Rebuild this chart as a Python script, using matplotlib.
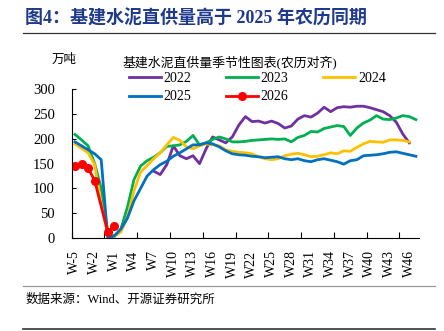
import numpy as np
import matplotlib.pyplot as plt
from matplotlib.lines import Line2D

plt.rcParams['font.family'] = ['Liberation Serif', 'Noto Sans CJK SC']

# 农历对齐周 W-5 ... W47
weeks = ['W%d' % w for w in range(-5, 48)]

nan = np.nan
s2022 = [nan] * 12 + [135, 128, 148, 186, 166, 160, 166, 150, 180, 204,
                      198, 192, 204, 228, 245, 235, 236, 232, 236, 231,
                      222, 226, 240, 247, 244, 252, 264, 255, 263, 265,
                      264, 266, 266, 263, 259, 255, 247, 234, 210, 192, nan]
s2023 = [209, 198, 186, 150, 100, 12, 4, 18, 62, 118,
         145, 156, 163, 172, 185, 186, 188, 195, 207, 188,
         192, 199, 204, 200, 194, 194, 195, 197, 198, 199,
         200, 199, 200, 194, 203, 207, 215, 214, 221, 224,
         227, 225, 207, 222, 232, 238, 247, 240, 239, 242,
         247, 245, 239]
s2024 = [190, 181, 172, 148, 68, 8, 3, 12, 42, 95,
         133, 146, 160, 172, 188, 203, 197, 184, 180, 186,
         190, 188, 186, 178, 175, 173, 172, 170, 164, 160,
         158, 160, 166, 169, 171, 168, 164, 165, 168, 172,
         170, 176, 175, 183, 190, 195, 194, 193, 198, 198,
         197, 194, nan]
s2025 = [194, 186, 178, 170, 158, 0, 4, 18, 40, 75,
         100, 125, 138, 148, 155, 165, 172, 180, 188, 188,
         192, 190, 184, 176, 170, 168, 167, 165, 164, 162,
         163, 164, 160, 158, 160, 156, 154, 158, 160, 157,
         154, 149, 156, 158, 166, 167, 168, 170, 173, 174,
         171, 168, 165]
s2026_idx = [0, 1, 2, 3, 5, 6]
s2026 = [145, 150, 141, 116, 12, 25]

fig = plt.figure(figsize=(4.44, 3.31), dpi=100)
ax = fig.add_axes([0.1615, 0.281, 0.7825, 0.449])

x = np.arange(len(weeks))
lw = 2.0
l22, = ax.plot(x, s2022, color='#7030A0', lw=lw, label='2022')
l23, = ax.plot(x, s2023, color='#00B050', lw=lw, label='2023')
l24, = ax.plot(x, s2024, color='#FFC000', lw=lw, label='2024')
l25, = ax.plot(x, s2025, color='#0070C0', lw=lw, label='2025')
l26, = ax.plot(s2026_idx, s2026, color='#FF0000', lw=lw, marker='o',
               markersize=5.5, label='2026')

ax.set_xlim(-0.5, len(weeks) - 0.5)
ax.set_ylim(0, 300)
ax.set_yticks(range(0, 301, 50))
ax.set_xticks(x[::3])
ax.set_xticklabels(weeks[::3], rotation=90)
ax.set_xticks(np.arange(-0.5, len(weeks), 5), minor=True)
ax.tick_params(axis='x', which='major', length=0, pad=9, labelsize=10)
ax.tick_params(axis='x', which='minor', direction='in', length=4, width=0.8)
ax.tick_params(axis='y', direction='in', length=3, width=0.8, labelsize=10.5, pad=12)
for sp in ['top', 'right']:
    ax.spines[sp].set_visible(False)
for sp in ['left', 'bottom']:
    ax.spines[sp].set_linewidth(0.8)

fig.legend([l22, l25, l23, l26, l24], ['2022', '2025', '2023', '2026', '2024'],
           ncol=3, loc='upper left', bbox_to_anchor=(0.29, 0.783), frameon=False,
           fontsize=10, handlelength=2.3, handletextpad=0.2, columnspacing=2.5,
           labelspacing=0.4, borderpad=0, borderaxespad=0)

fig.text(0.057, 0.943, '图4：基建水泥直供量高于 2025 年农历同期', fontsize=13,
         fontweight='bold', color='#1F3A8A', va='center')
fig.add_artist(Line2D([0.052, 0.98], [0.899, 0.899], color='#333333', lw=0.9))
fig.text(0.117, 0.818, '万吨', fontsize=9, va='center')
fig.text(0.275, 0.812, '基建水泥直供量季节性图表(农历对齐)', fontsize=9.3, va='center')
fig.add_artist(Line2D([0.052, 0.98], [0.136, 0.136], color='#999999', lw=0.9))
fig.text(0.057, 0.094, '数据来源：Wind、开源证券研究所', fontsize=9, va='center')
fig.add_artist(Line2D([0.052, 0.98], [0.005, 0.005], color='#333333', lw=1.2))

plt.savefig('out.png', dpi=100)
